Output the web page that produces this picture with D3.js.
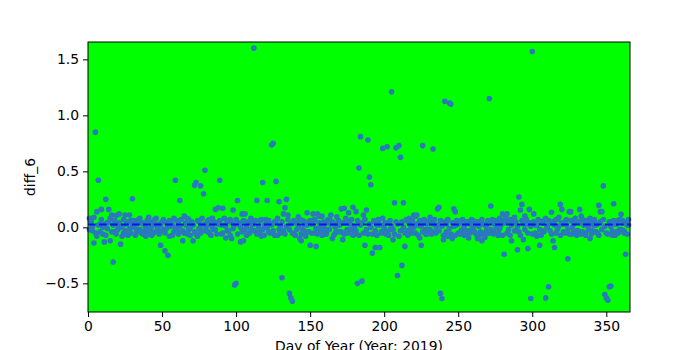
<!DOCTYPE html>
<html>
<head>
<meta charset="utf-8">
<script src="https://cdn.jsdelivr.net/npm/d3@7"></script>
<style>
  body { margin: 0; background: #fff; }
  text { font-family: "DejaVu Sans", sans-serif; }
</style>
</head>
<body>
<svg width="700" height="350"></svg>
<script>
// diff_6 per day of year (day = index + 1)
const diff6 = [
  0.08, 0.05, -0.03, -0.14, 0.85, 0.14, 0.42, 0.03, 0.16, -0.06,
  -0.13, 0.25, 0.04, 0.16, -0.12, 0.11, -0.31, -0.04, 0.105, 0.02,
  0.12, -0.15, 0.01, -0.05, 0.11, 0.03, -0.07, 0.11, 0.06, 0.255,
  0.0, 0.05, -0.04, 0.07, -0.02, 0.04, -0.06, 0.02, -0.08, 0.06,
  0.09, -0.03, 0.01, -0.05, 0.07, 0.02, -0.04, 0.03, -0.16, 0.05,
  -0.02, -0.21, 0.04, -0.25, 0.06, 0.01, -0.07, 0.08, 0.42, -0.03,
  0.05, 0.24, -0.04, -0.12, 0.10, 0.02, -0.06, 0.07, -0.01, 0.03,
  -0.12, 0.375, 0.40, -0.08, 0.05, 0.37, 0.02, 0.30, 0.51, -0.03,
  0.06, -0.05, 0.03, 0.08, -0.02, 0.16, 0.04, 0.175, 0.42, -0.06,
  0.17, 0.02, -0.095, 0.05, -0.03, 0.07, -0.10, 0.155, -0.515, -0.50,
  0.24, 0.03, -0.13, 0.12, -0.12, 0.12, 0.01, -0.06, 0.05, -0.02,
  0.04, 1.60, -0.03, 0.24, -0.05, 0.06, -0.08, 0.40, 0.02, 0.07,
  0.24, -0.04, 0.03, 0.735, 0.75, 0.05, 0.41, -0.07, 0.23, 0.01,
  -0.45, 0.12, 0.175, 0.25, 0.11, -0.59, -0.63, -0.66, -0.06, 0.04,
  -0.02, 0.095, -0.10, -0.12, 0.06, 0.02, -0.04, 0.13, 0.05, -0.16,
  0.03, 0.12, -0.05, -0.17, 0.12, 0.10, -0.03, 0.10, 0.01, -0.06,
  0.04, -0.02, 0.07, 0.11, -0.10, 0.03, -0.05, 0.095, 0.02, -0.04,
  0.165, -0.11, 0.17, 0.04, -0.03, 0.13, 0.06, -0.02, 0.18, -0.06,
  0.14, -0.50, 0.53, 0.81, -0.48, 0.11, -0.16, 0.155, 0.78, 0.45,
  0.38, -0.23, 0.05, -0.18, 0.02, 0.07, -0.18, -0.04, 0.705, 0.03,
  -0.06, 0.72, 0.04, -0.02, 1.21, -0.11, 0.22, 0.71, -0.43, 0.73,
  0.625, -0.34, 0.22, -0.17, 0.06, -0.03, 0.08, 0.01, -0.05, 0.11,
  0.10, 0.11, 0.02, -0.095, -0.16, 0.73, 0.04, -0.06, 0.03, -0.02,
  0.09, 0.05, 0.70, -0.04, 0.01, 0.165, 0.18, -0.59, -0.635, -0.11,
  1.125, 0.03, -0.08, 1.11, 1.10, -0.10, 0.165, 0.14, 0.02, -0.05,
  0.04, -0.03, 0.07, 0.01, -0.06, 0.05, -0.095, 0.03, -0.02, 0.06,
  -0.04, 0.02, -0.10, -0.08, 0.05, -0.12, 0.03, -0.09, 0.01, -0.05,
  1.15, 0.19, 0.04, -0.03, 0.06, 0.01, -0.07, 0.08, 0.02, 0.12,
  -0.24, 0.05, 0.12, -0.02, 0.07, -0.12, 0.04, 0.09, -0.03, -0.20,
  0.27, 0.155, 0.205, -0.11, 0.10, 0.03, -0.19, 0.16, -0.635, 1.57,
  0.12, 0.02, -0.08, -0.07, -0.16, 0.05, -0.03, 0.06, -0.63, 0.01,
  -0.53, 0.04, 0.135, -0.12, -0.18, 0.07, -0.02, 0.09, 0.205, 0.16,
  -0.04, 0.05, 0.02, -0.28, 0.14, 0.14, -0.06, 0.03, 0.08, -0.03,
  0.05, 0.16, 0.10, -0.04, 0.02, -0.07, 0.06, 0.01, -0.10, 0.04,
  -0.03, 0.07, 0.02, -0.05, 0.196, 0.14, 0.14, 0.37, -0.60, -0.63,
  -0.65, -0.53, -0.525, -0.07, 0.21, 0.03, -0.04, 0.06, -0.02, 0.116,
  0.04, -0.05, -0.24, 0.02, 0.07
];
// second reading per day: the dense band around zero
const diff6Band = [
  -0.02, 0.06, 0.01, 0.09, -0.05, -0.08, 0.02, -0.04, 0.07, 0.0,
  0.03, -0.07, -0.01, 0.05, 0.08, -0.04, 0.02, 0.06, -0.06, -0.02,
  0.04, 0.0, -0.08, 0.07, -0.03, -0.06, 0.05, -0.01, -0.05, 0.02,
  0.06, -0.07, 0.03, -0.02, 0.08, -0.05, 0.04, -0.03, 0.01, -0.06,
  -0.02, 0.05, -0.07, 0.03, -0.04, 0.08, 0.0, -0.06, 0.02, -0.03,
  0.07, -0.05, -0.01, 0.03, -0.08, 0.05, 0.02, -0.04, 0.0, 0.06,
  -0.06, 0.01, 0.07, -0.03, -0.05, 0.04, 0.08, -0.02, -0.07, 0.05,
  0.02, -0.04, -0.06, 0.06, -0.01, -0.05, 0.08, -0.03, 0.03, 0.01,
  -0.04, 0.07, -0.07, 0.0, 0.05, -0.02, -0.06, 0.03, 0.06, 0.02,
  -0.05, 0.08, 0.01, -0.03, 0.06, -0.07, 0.04, -0.01, 0.02, 0.07,
  -0.06, 0.04, 0.0, -0.04, 0.06, -0.02, -0.07, 0.05, -0.05, 0.08,
  0.02, -0.03, 0.06, -0.06, 0.01, -0.04, 0.07, -0.02, -0.07, 0.03,
  0.0, 0.06, -0.05, 0.02, -0.03, -0.07, 0.04, 0.08, -0.02, -0.05,
  0.05, -0.03, -0.06, 0.01, 0.07, -0.02, 0.03, -0.05, 0.06, -0.07,
  0.04, 0.0, 0.07, -0.06, -0.02, 0.05, -0.08, 0.02, -0.04, 0.06,
  -0.05, 0.03, 0.07, -0.01, -0.06, 0.04, 0.01, -0.07, 0.05, -0.03,
  -0.06, 0.07, -0.02, 0.03, 0.05, -0.07, 0.0, -0.04, 0.06, 0.02,
  -0.04, 0.04, -0.06, 0.08, -0.02, -0.05, 0.03, 0.07, -0.07, 0.01,
  -0.03, 0.06, -0.07, 0.02, 0.04, -0.05, 0.07, -0.02, -0.06, 0.03,
  0.0, -0.06, 0.06, -0.03, -0.07, 0.05, 0.02, -0.05, 0.08, -0.01,
  0.04, -0.04, -0.07, 0.06, 0.01, -0.02, -0.06, 0.05, 0.03, -0.08,
  -0.03, 0.05, 0.0, -0.05, 0.07, -0.07, 0.03, -0.03, 0.06, 0.0,
  -0.05, 0.03, -0.07, 0.06, 0.01, -0.04, 0.07, -0.02, -0.06, 0.05,
  -0.02, -0.06, 0.03, 0.07, -0.05, 0.02, -0.03, 0.06, 0.01, -0.07,
  0.05, -0.04, 0.07, -0.01, -0.06, 0.04, 0.01, -0.07, 0.06, 0.03,
  -0.06, 0.06, -0.02, -0.07, 0.03, -0.03, 0.05, -0.05, 0.07, -0.01,
  0.03, -0.06, 0.05, 0.01, -0.04, 0.07, -0.06, 0.02, -0.03, 0.06,
  -0.05, -0.02, 0.07, -0.06, 0.02, 0.05, -0.04, -0.01, 0.06, -0.07,
  0.04, 0.08, -0.05, 0.06, -0.07, 0.02, 0.07, -0.03, 0.05, 0.01,
  -0.04, -0.07, 0.06, 0.03, -0.02, 0.07, -0.05, 0.04, 0.01, -0.06,
  0.05, -0.05, 0.02, 0.07, -0.02, -0.07, 0.04, -0.04, 0.08, 0.0,
  0.06, -0.03, -0.06, 0.05, 0.02, -0.05, 0.07, 0.01, -0.07, 0.04,
  0.03, -0.05, 0.07, -0.02, -0.06, 0.06, 0.0, -0.04, 0.05, -0.07,
  -0.03, 0.04, -0.06, 0.07, 0.02, -0.05, 0.05, -0.02, 0.08, -0.06,
  0.02, 0.06, -0.04, 0.03, -0.07, 0.05, -0.02, 0.07, 0.01, -0.05,
  -0.06, 0.05, 0.01, -0.03, 0.06, -0.07, 0.03, -0.05, 0.07, -0.02,
  0.06, -0.03, 0.04, -0.06, 0.02
];
const days = diff6.map((d, i) => i + 1);
const meanLevel = 0.025;
const xTicks = [0, 50, 100, 150, 200, 250, 300, 350];
const yTicks = [-0.5, 0, 0.5, 1.0, 1.5];

const m = { left: 88, right: 630, top: 42, bottom: 312 };
const svg = d3.select("svg");

const x = d3.scaleLinear([0, 366], [m.left, m.right]);
const y = d3.scaleLinear([-0.756, 1.655], [m.bottom, m.top]);

svg.append("rect")
  .attr("x", m.left).attr("y", m.top)
  .attr("width", m.right - m.left).attr("height", m.bottom - m.top)
  .attr("fill", "#00ff00");

const points = days.flatMap((d, i) => [[d, diff6Band[i]], [d, diff6[i]]]);

const plot = svg.append("g");
plot.selectAll("circle")
  .data(points)
  .join("circle")
  .attr("cx", (d) => x(d[0]))
  .attr("cy", (d) => y(d[1]))
  .attr("r", 2.8)
  .attr("fill", "#2a78bd");

plot.append("line")
  .attr("x1", m.left).attr("x2", m.right)
  .attr("y1", y(meanLevel)).attr("y2", y(meanLevel))
  .attr("stroke", "blue")
  .attr("stroke-opacity", 0.85)
  .attr("stroke-width", 2)
  .attr("stroke-dasharray", "7.7,3.3");

const fmt = (d) => d3.format(".1f")(d).replace("-", "\u2212");

const xAxis = svg.append("g")
  .attr("transform", `translate(0,${m.bottom})`)
  .call(d3.axisBottom(x).tickValues(xTicks).tickSize(5).tickPadding(4));
const yAxis = svg.append("g")
  .attr("transform", `translate(${m.left},0)`)
  .call(d3.axisLeft(y).tickValues(yTicks).tickFormat(fmt).tickSize(5).tickPadding(4));

[xAxis, yAxis].forEach((a) => {
  a.select(".domain").remove();
  a.selectAll("text").attr("font-size", 13.9).attr("fill", "#000")
    .style("font-family", "DejaVu Sans");
  a.selectAll("line").attr("stroke", "#000").attr("stroke-width", 1);
});

svg.append("rect")
  .attr("x", m.left).attr("y", m.top)
  .attr("width", m.right - m.left).attr("height", m.bottom - m.top)
  .attr("fill", "none").attr("stroke", "#000").attr("stroke-width", 1);

svg.append("text")
  .attr("x", (m.left + m.right) / 2).attr("y", 351)
  .attr("text-anchor", "middle")
  .attr("font-size", 13.9)
  .text("Day of Year (Year: 2019)");

svg.append("text")
  .attr("transform", `translate(35,${(m.top + m.bottom) / 2}) rotate(-90)`)
  .attr("text-anchor", "middle")
  .attr("font-size", 13.9)
  .text("diff_6");
</script>
</body>
</html>
